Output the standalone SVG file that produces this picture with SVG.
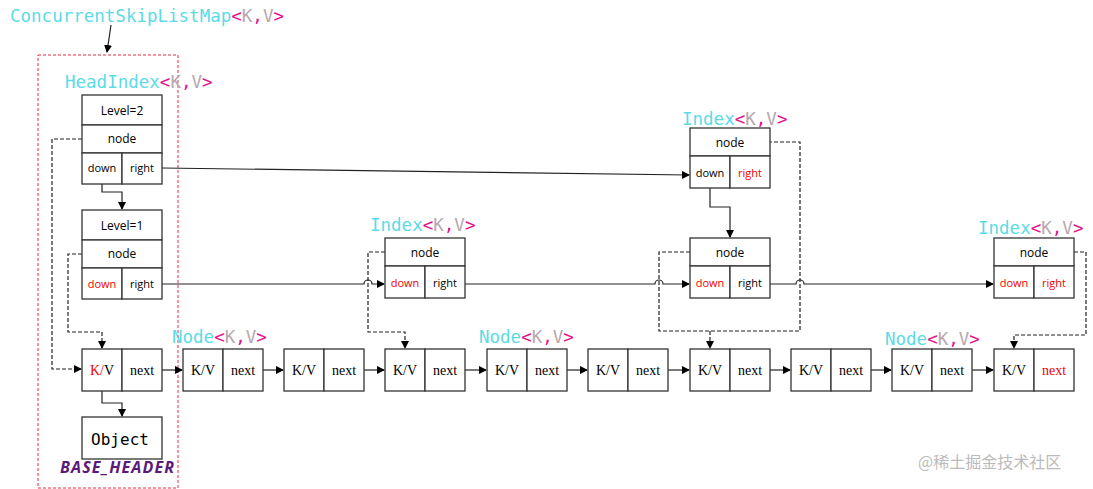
<svg xmlns="http://www.w3.org/2000/svg" width="1093" height="489" viewBox="0 0 1093 489">
<defs>
<marker id="a" markerWidth="8" markerHeight="8" refX="7" refY="4" orient="auto" markerUnits="userSpaceOnUse"><path d="M0,0L8,4L0,8z" fill="#000"/></marker>
<style>
.b{fill:#fff;stroke:#333;stroke-width:1.3}
.t{font-family:"Open Sans","DejaVu Sans",sans-serif;font-size:12px;text-anchor:middle;fill:#000}
.s{font-size:11px}
.m{font-family:"Liberation Serif",serif;font-size:14px;text-anchor:middle}
.r{fill:#e00}
.ti{font-family:"DejaVu Sans Mono",monospace;font-size:17.5px;fill:#5cdbe6}
.p{fill:#e0148c}.g{fill:#b8a8ad}
.l{fill:none;stroke:#222;stroke-width:1.2}
.d{fill:none;stroke:#222;stroke-width:1.2;stroke-dasharray:4,2}
</style>
</defs>
<rect x="38" y="55" width="140" height="433" fill="none" stroke="#e03040" stroke-dasharray="3,2"/>
<text x="10" y="22" class="ti">ConcurrentSkipListMap<tspan class="p">&lt;</tspan><tspan class="g">K</tspan><tspan class="p">,</tspan><tspan class="g">V</tspan><tspan class="p">&gt;</tspan></text>
<text x="65" y="88" class="ti">HeadIndex<tspan class="p">&lt;</tspan><tspan class="g">K</tspan><tspan class="p">,</tspan><tspan class="g">V</tspan><tspan class="p">&gt;</tspan></text>
<text x="370" y="231" class="ti">Index<tspan class="p">&lt;</tspan><tspan class="g">K</tspan><tspan class="p">,</tspan><tspan class="g">V</tspan><tspan class="p">&gt;</tspan></text>
<text x="682" y="125" class="ti">Index<tspan class="p">&lt;</tspan><tspan class="g">K</tspan><tspan class="p">,</tspan><tspan class="g">V</tspan><tspan class="p">&gt;</tspan></text>
<text x="978" y="234" class="ti">Index<tspan class="p">&lt;</tspan><tspan class="g">K</tspan><tspan class="p">,</tspan><tspan class="g">V</tspan><tspan class="p">&gt;</tspan></text>
<text x="172" y="343" class="ti">Node<tspan class="p">&lt;</tspan><tspan class="g">K</tspan><tspan class="p">,</tspan><tspan class="g">V</tspan><tspan class="p">&gt;</tspan></text>
<text x="479" y="343" class="ti">Node<tspan class="p">&lt;</tspan><tspan class="g">K</tspan><tspan class="p">,</tspan><tspan class="g">V</tspan><tspan class="p">&gt;</tspan></text>
<text x="885" y="345" class="ti">Node<tspan class="p">&lt;</tspan><tspan class="g">K</tspan><tspan class="p">,</tspan><tspan class="g">V</tspan><tspan class="p">&gt;</tspan></text>
<text x="60" y="473" font-family="'Open Sans',sans-serif" font-size="16" font-weight="bold" font-style="italic" fill="#5a1a7a" textLength="114">BASE_HEADER</text>
<text x="918" y="468" font-family="'Noto Sans CJK SC',sans-serif" font-size="16" fill="#bbb">@稀土掘金技术社区</text>

<g id="connectors">
<path class="l" d="M111,25L107,52" marker-end="url(#a)"/>
<path class="l" d="M102,184V192H122V209" marker-end="url(#a)"/>
<path class="l" d="M162,168L689,175" marker-end="url(#a)"/>
<path class="d" d="M82,139H52V369H81" marker-end="url(#a)"/>
<path class="d" d="M82,254H68V332H102V348" marker-end="url(#a)"/>
<path class="l" d="M162,284H364a4,4 0 0 1 8,0H384" marker-end="url(#a)"/>
<path class="d" d="M385,252H368V332H405V348" marker-end="url(#a)"/>
<path class="l" d="M465,284H655a4,4 0 0 1 8,0H689" marker-end="url(#a)"/>
<path class="d" d="M690,252H659V331H800V142H770"/>
<path class="d" d="M710,331V348" marker-end="url(#a)"/>
<path class="l" d="M770,284H796a4,4 0 0 1 8,0H993" marker-end="url(#a)"/>
<path class="l" d="M710,188V207H730V237" marker-end="url(#a)"/>
<path class="d" d="M1074,252H1086V335H1014V348" marker-end="url(#a)"/>
<path class="l" d="M102,391V403H122V416" marker-end="url(#a)"/>
<path class="l" d="M162,370H182" marker-end="url(#a)"/>
<path class="l" d="M263,370H283" marker-end="url(#a)"/>
<path class="l" d="M364,370H384" marker-end="url(#a)"/>
<path class="l" d="M465,370H486" marker-end="url(#a)"/>
<path class="l" d="M567,370H587" marker-end="url(#a)"/>
<path class="l" d="M668,370H689" marker-end="url(#a)"/>
<path class="l" d="M770,370H790" marker-end="url(#a)"/>
<path class="l" d="M871,370H891" marker-end="url(#a)"/>
<path class="l" d="M972,370H993" marker-end="url(#a)"/>
</g>

<g id="head2">
<rect class="b" x="82" y="95" width="80" height="30"/><rect class="b" x="82" y="125" width="80" height="28"/>
<rect class="b" x="82" y="153" width="40" height="31"/><rect class="b" x="122" y="153" width="40" height="31"/>
<text class="t" x="122" y="115">Level=2</text><text class="t" x="122" y="143">node</text>
<text class="t s" x="102" y="172">down</text><text class="t s" x="142" y="172">right</text>
</g>
<g id="head1">
<rect class="b" x="82" y="210" width="80" height="30"/><rect class="b" x="82" y="240" width="80" height="28"/>
<rect class="b" x="82" y="268" width="40" height="31"/><rect class="b" x="122" y="268" width="40" height="31"/>
<text class="t" x="122" y="230">Level=1</text><text class="t" x="122" y="258">node</text>
<text class="t s r" x="102" y="288">down</text><text class="t s" x="142" y="288">right</text>
</g>
<g id="index1">
<rect class="b" x="385" y="238" width="80" height="28"/>
<rect class="b" x="385" y="266" width="40" height="32"/><rect class="b" x="425" y="266" width="40" height="32"/>
<text class="t" x="425" y="257">node</text>
<text class="t s r" x="405" y="287">down</text><text class="t s" x="445" y="287">right</text>
</g>
<g id="index2top">
<rect class="b" x="690" y="128" width="80" height="28"/>
<rect class="b" x="690" y="156" width="40" height="32"/><rect class="b" x="730" y="156" width="40" height="32"/>
<text class="t" x="730" y="147">node</text>
<text class="t s" x="710" y="177">down</text><text class="t s r" x="750" y="177">right</text>
</g>
<g id="index2">
<rect class="b" x="690" y="238" width="80" height="28"/>
<rect class="b" x="690" y="266" width="40" height="32"/><rect class="b" x="730" y="266" width="40" height="32"/>
<text class="t" x="730" y="257">node</text>
<text class="t s r" x="710" y="287">down</text><text class="t s" x="750" y="287">right</text>
</g>
<g id="index3">
<rect class="b" x="994" y="238" width="80" height="28"/>
<rect class="b" x="994" y="266" width="40" height="32"/><rect class="b" x="1034" y="266" width="40" height="32"/>
<text class="t" x="1034" y="257">node</text>
<text class="t s r" x="1014" y="287">down</text><text class="t s r" x="1054" y="287">right</text>
</g>
<g id="node0"><rect class="b" x="82" y="349" width="40" height="42"/><rect class="b" x="122" y="349" width="40" height="42"/><text class="m" x="102" y="375"><tspan fill="#e00">K/</tspan>V</text><text class="m" x="142" y="375">next</text></g>
<g id="node1"><rect class="b" x="183" y="349" width="40" height="42"/><rect class="b" x="223" y="349" width="40" height="42"/><text class="m" x="203" y="375">K/V</text><text class="m" x="243" y="375">next</text></g>
<g id="node2"><rect class="b" x="284" y="349" width="40" height="42"/><rect class="b" x="324" y="349" width="40" height="42"/><text class="m" x="304" y="375">K/V</text><text class="m" x="344" y="375">next</text></g>
<g id="node3"><rect class="b" x="385" y="349" width="40" height="42"/><rect class="b" x="425" y="349" width="40" height="42"/><text class="m" x="405" y="375">K/V</text><text class="m" x="445" y="375">next</text></g>
<g id="node4"><rect class="b" x="487" y="349" width="40" height="42"/><rect class="b" x="527" y="349" width="40" height="42"/><text class="m" x="507" y="375">K/V</text><text class="m" x="547" y="375">next</text></g>
<g id="node5"><rect class="b" x="588" y="349" width="40" height="42"/><rect class="b" x="628" y="349" width="40" height="42"/><text class="m" x="608" y="375">K/V</text><text class="m" x="648" y="375">next</text></g>
<g id="node6"><rect class="b" x="690" y="349" width="40" height="42"/><rect class="b" x="730" y="349" width="40" height="42"/><text class="m" x="710" y="375">K/V</text><text class="m" x="750" y="375">next</text></g>
<g id="node7"><rect class="b" x="791" y="349" width="40" height="42"/><rect class="b" x="831" y="349" width="40" height="42"/><text class="m" x="811" y="375">K/V</text><text class="m" x="851" y="375">next</text></g>
<g id="node8"><rect class="b" x="892" y="349" width="40" height="42"/><rect class="b" x="932" y="349" width="40" height="42"/><text class="m" x="912" y="375">K/V</text><text class="m" x="952" y="375">next</text></g>
<g id="node9"><rect class="b" x="994" y="349" width="40" height="42"/><rect class="b" x="1034" y="349" width="40" height="42"/><text class="m" x="1014" y="375">K/V</text><text class="m r" x="1054" y="375">next</text></g>
<g id="object"><rect class="b" x="82" y="417" width="80" height="42"/><text x="120" y="445" font-family="'DejaVu Sans Mono',monospace" font-size="16" text-anchor="middle">Object</text></g>
</svg>
